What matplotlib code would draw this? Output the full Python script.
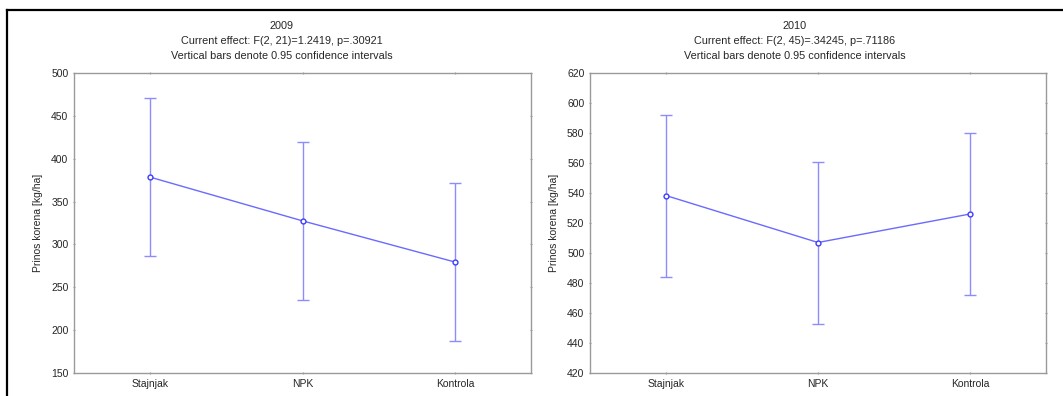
import matplotlib
matplotlib.use("Agg")
import matplotlib.pyplot as plt
from matplotlib.lines import Line2D

plt.rcParams["font.family"] = ["Liberation Sans", "DejaVu Sans"]

treatments = ["Stajnjak", "NPK", "Kontrola"]

mean_2009 = [378.5, 327.5, 279.5]
low_2009 = [286.0, 235.0, 187.0]
high_2009 = [471.0, 420.0, 372.0]

mean_2010 = [538.3, 507.0, 526.0]
low_2010 = [484.0, 453.0, 472.0]
high_2010 = [592.3, 561.0, 580.0]

yticks_2009 = [150, 200, 250, 300, 350, 400, 450, 500]
yticks_2010 = [420, 440, 460, 480, 500, 520, 540, 560, 580, 600, 620]

titles = [
    ["2009", "Current effect: F(2, 21)=1.2419, p=.30921",
     "Vertical bars denote 0.95 confidence intervals"],
    ["2010", "Current effect: F(2, 45)=.34245, p=.71186",
     "Vertical bars denote 0.95 confidence intervals"],
]

W, H = 1063, 396
LINE = "#6a6aff"
BAR = "#8c8cff"
TXT = "#262626"
SPINE = "#9a9a9a"

fig = plt.figure(figsize=(W / 100, H / 100), dpi=100)

# outer black frame (left + top visible)
fig.add_artist(Line2D([7 / W, 7 / W], [0, 1 - 10 / H], color="black", lw=1.6,
                      transform=fig.transFigure))
fig.add_artist(Line2D([7 / W, 1], [1 - 10 / H, 1 - 10 / H], color="black", lw=1.6,
                      transform=fig.transFigure))

panels = [
    (74, 531, 282, mean_2009, low_2009, high_2009, yticks_2009, titles[0]),
    (590, 1046, 795, mean_2010, low_2010, high_2010, yticks_2010, titles[1]),
]

for x0, x1, tx, mean, low, high, yt, ttl in panels:
    ax = fig.add_axes([x0 / W, 1 - 373 / H, (x1 - x0) / W, 300 / H])
    xs = list(range(len(treatments)))
    err = [[m - l for m, l in zip(mean, low)], [h - m for m, h in zip(mean, high)]]
    ax.errorbar(xs, mean, yerr=err, fmt="none", ecolor=BAR, elinewidth=1.0,
                capsize=4, capthick=1.0)
    ax.plot(xs, mean, "-", color=LINE, lw=1.0)
    ax.plot(xs, mean, "o", ms=3.5, mfc="white", mec="#3c3cff", mew=1.0)
    ax.set_xlim(-0.5, 2.5)
    ax.set_ylim(yt[0], yt[-1])
    ax.set_yticks(yt)
    ax.set_xticks(xs)
    ax.set_xticklabels(treatments)
    for s in ax.spines.values():
        s.set_color(SPINE)
        s.set_linewidth(1.0)
    ax.tick_params(axis="both", which="both", length=2, width=0.8, color=SPINE,
                   labelsize=7.5, labelcolor=TXT, pad=3,
                   top=True, right=True, direction="inout")
    ax.set_ylabel("Prinos korena [kg/ha]", fontsize=7.5, color=TXT, labelpad=6)
    for i, line in enumerate(ttl):
        fig.text(tx / W, 1 - (26 + 15 * i) / H, line, ha="center", va="center",
                 fontsize=7.8, color=TXT)

fig.savefig("out.png", dpi=100)
